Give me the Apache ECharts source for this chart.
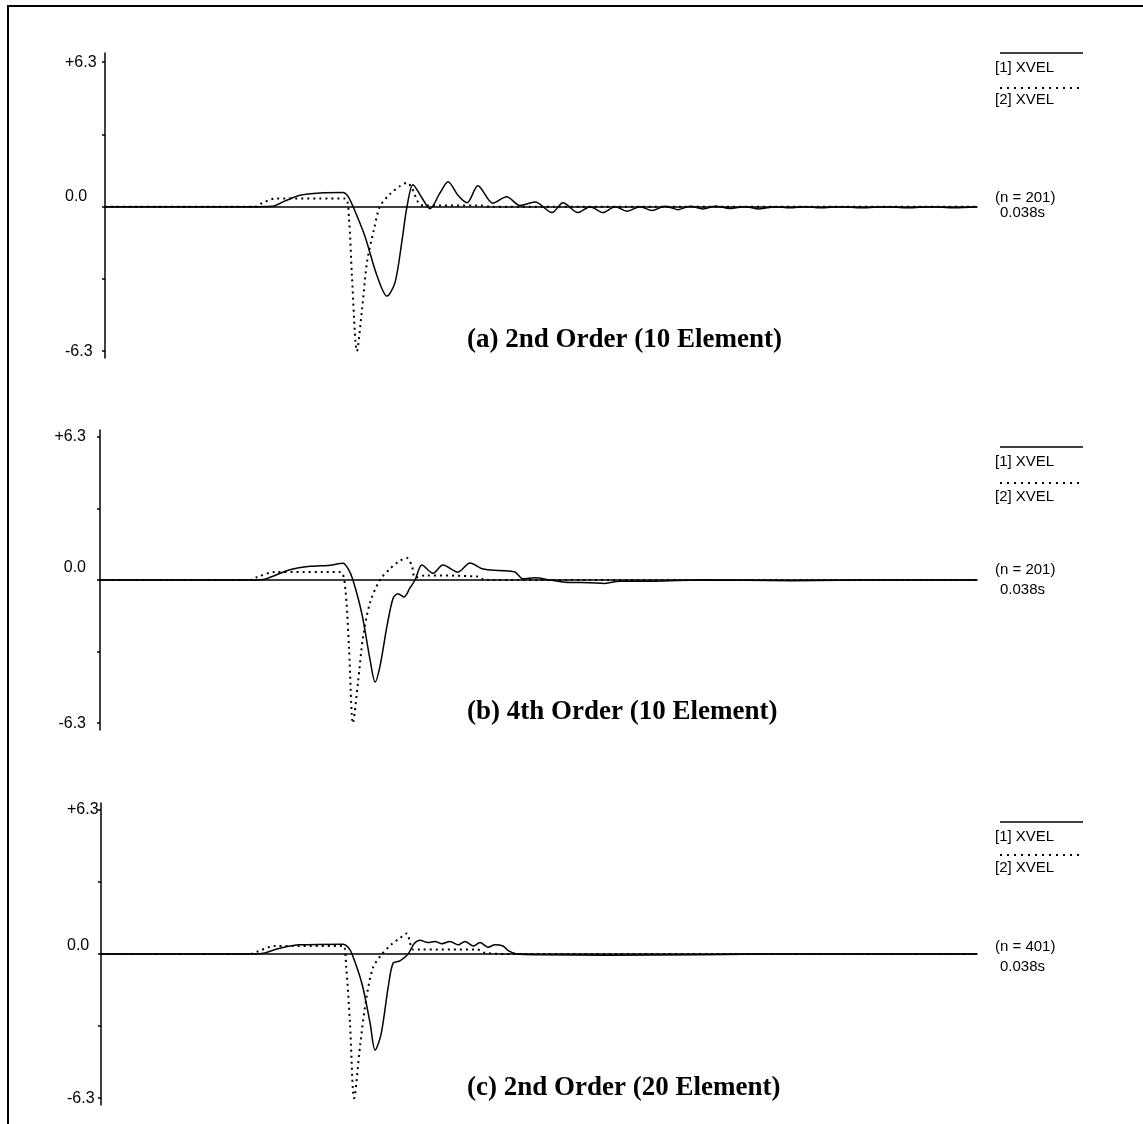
<!DOCTYPE html>
<html>
<head>
<meta charset="utf-8">
<script src="https://cdn.jsdelivr.net/npm/echarts@6/dist/echarts.min.js"></script>
<style>
html,body{margin:0;padding:0;background:#fff;}
#chart{width:1143px;height:1124px;}
</style>
</head>
<body>
<div id="chart"></div>
<script>
// ---- data (time in ms, value) ----
const T_MAX = 38;
const seriesNames = ['[1] XVEL', '[2] XVEL'];
const panelTitles = ['(a) 2nd Order (10 Element)', '(b) 4th Order (10 Element)', '(c) 2nd Order (20 Element)'];
const sampleCounts = ['(n = 201)', '(n = 201)', '(n = 401)'];
const durationLabel = '0.038s';
const yLabelValues = [6.3, 0, -6.3];
const yLabelTexts = ['+6.3', '0.0', '-6.3'];
const yTickValues = [6.3, 3.15, 0, -3.15, -6.3];

const a1 = [[0,0],[6.3,0],[7.3,0.02],[7.85,0.25],[8.5,0.5],[9.37,0.6],[10.37,0.62],[10.59,0.45],[10.81,0],[11.33,-1.3],[11.85,-3.0],[12.29,-3.9],[12.64,-3.3],[12.94,-1.5],[13.16,0],[13.42,0.96],[13.8,0.4],[14.16,-0.09],[14.6,0.6],[14.95,1.09],[15.38,0.5],[15.78,0.17],[16.25,0.91],[16.9,0.15],[17.5,0.43],[18.09,0.05],[18.74,0.2],[19.48,-0.26],[19.96,0.17],[20.61,-0.26],[21.14,0],[21.7,-0.26],[22.23,0],[22.75,-0.2],[23.32,0],[23.84,-0.17],[24.4,0.02],[24.97,-0.13],[25.5,0.02],[26.06,-0.1],[26.6,0.02],[27.24,-0.08],[27.9,0],[28.5,-0.1],[29.2,0],[29.85,-0.05],[30.5,0],[31.2,-0.05],[32,0],[33,-0.05],[34,0],[35,-0.05],[36,0],[37,-0.05],[38,0]];
const a2 = [[0,0],[6.54,0],[6.84,0.15],[7.41,0.35],[10.46,0.35],[10.63,-0.5],[10.76,-3.0],[10.98,-6.3],[11.2,-4.5],[11.42,-2.4],[11.72,-1.0],[11.98,0],[12.42,0.55],[12.86,0.9],[13.16,1.04],[13.38,0.8],[13.64,0.2],[13.86,0.05],[16.34,0.05],[16.78,0],[38,0]];
const b1 = [[0,0],[6.5,0],[7.06,0.02],[7.58,0.2],[8.23,0.45],[9.1,0.6],[9.97,0.65],[10.53,0.74],[10.75,0.5],[10.96,0],[11.35,-1.5],[11.7,-3.5],[11.92,-4.49],[12.13,-3.8],[12.44,-2.0],[12.7,-0.8],[12.91,-0.6],[13.17,-0.75],[13.43,-0.35],[13.65,0],[13.95,0.66],[14.43,0.3],[14.86,0.66],[15.51,0.35],[16.03,0.75],[16.6,0.48],[17.33,0.42],[17.98,0.35],[18.33,0.05],[18.85,0.1],[19.5,0],[20.15,-0.1],[21.23,-0.12],[21.88,-0.15],[22.5,-0.05],[24,-0.05],[26,0],[30,-0.03],[34,0],[38,0]];
const b2 = [[0,0],[6.5,0],[6.85,0.15],[7.58,0.35],[10.4,0.35],[10.62,-0.3],[10.79,-3.0],[10.96,-6.3],[11.18,-4.5],[11.4,-2.5],[11.7,-1.0],[12.13,0],[12.57,0.5],[13.0,0.85],[13.3,0.97],[13.52,0.6],[13.65,0.1],[14.08,0.2],[16.34,0.15],[16.68,0],[38,0]];
const c1 = [[0,0],[6.68,0],[7.11,0.05],[7.76,0.25],[8.63,0.4],[10.5,0.43],[10.72,0.3],[10.89,0],[11.32,-1.3],[11.67,-3.0],[11.89,-4.2],[12.15,-3.5],[12.45,-1.5],[12.67,-0.4],[12.97,-0.3],[13.32,0],[13.58,0.45],[13.84,0.6],[14.18,0.5],[14.49,0.55],[14.79,0.45],[15.14,0.55],[15.49,0.4],[15.79,0.55],[16.14,0.35],[16.44,0.5],[16.79,0.3],[17.09,0.4],[17.44,0.35],[17.66,0.15],[18.05,0],[19,-0.03],[22,-0.05],[26,-0.03],[30,0],[38,0]];
const c2 = [[0,0],[6.46,0],[6.77,0.1],[7.55,0.35],[10.5,0.35],[10.63,-0.5],[10.8,-3.0],[10.98,-6.3],[11.24,-4.0],[11.5,-2.0],[11.8,-0.6],[12.19,0],[12.63,0.45],[12.97,0.7],[13.27,0.9],[13.4,0.5],[13.53,0.2],[13.84,0.2],[16.31,0.2],[16.66,0.05],[17.87,0],[38,0]];

const panelData = [[a1, a2], [b1, b2], [c1, c2]];

// ---- layout ----
const panels = [
  {left:105, top:53, width:872, height:305, min:-6.6, max:6.7, labAlign:'left', labMargin:40, zeroShift:20, titleTop:327,
   leg:{line1:53, text1:68, line2:88, text2:100, n:198, s:213}},
  {left:100, top:430, width:877, height:300, min:-6.6, max:6.6, labAlign:'right', labMargin:14, zeroShift:24, titleTop:699,
   leg:{line1:447, text1:462, line2:483, text2:497, n:570, s:590}},
  {left:101, top:803, width:876, height:302, min:-6.6, max:6.6, labAlign:'left', labMargin:34, zeroShift:16, titleTop:1075,
   leg:{line1:822, text1:837, line2:855, text2:868, n:947, s:967}}
];

const FONT_SANS = '"Liberation Sans", Arial, sans-serif';
const grids = [], xAxes = [], yAxes = [], series = [], titles = [], graphics = [];

panels.forEach((p, i) => {
  grids.push({left:p.left, top:p.top, width:p.width, height:p.height, containLabel:false});
  xAxes.push({
    type:'value', gridIndex:i, min:0, max:T_MAX,
    axisLine:{show:true, onZero:true, lineStyle:{color:'#000', width:1.5}},
    axisTick:{show:false}, axisLabel:{show:false}, splitLine:{show:false}
  });
  yAxes.push({
    type:'value', gridIndex:i, min:p.min, max:p.max,
    axisLine:{show:true, lineStyle:{color:'#000', width:1.5}},
    axisTick:{show:true, length:3, customValues:yTickValues, lineStyle:{color:'#000', width:1.5}},
    axisLabel:{
      show:true, customValues:yLabelValues, align:p.labAlign, margin:p.labMargin,
      color:'#000', fontFamily:FONT_SANS, fontSize:16,
      formatter:(v) => {
        const k = yLabelValues.findIndex(x => Math.abs(x - v) < 1e-6);
        const t = k >= 0 ? yLabelTexts[k] : '';
        return Math.abs(v) < 1e-6 ? '{z|' + t + '}' : t;
      },
      rich:{z:{fontFamily:FONT_SANS, fontSize:16, color:'#000', padding:[0,0,p.zeroShift,0]}}
    },
    splitLine:{show:false}
  });
  panelData[i].forEach((d, j) => {
    series.push({
      name:seriesNames[j], type:'line', xAxisIndex:i, yAxisIndex:i, data:d,
      showSymbol:false, smooth:0.3, clip:false, animation:false,
      lineStyle: j === 0 ? {color:'#000', width:1.5, type:'solid'} : {color:'#000', width:2, type:[2,4]},
      z: j === 0 ? 3 : 2
    });
  });
  titles.push({
    text:panelTitles[i], left:467, top:p.titleTop, padding:0,
    textStyle:{fontFamily:'"Liberation Serif", "Times New Roman", serif', fontWeight:'bold', fontSize:27, color:'#000'}
  });
  const L = p.leg;
  graphics.push(
    {type:'line', shape:{x1:1000, y1:L.line1, x2:1083, y2:L.line1}, style:{stroke:'#000', lineWidth:1.5}},
    {type:'text', x:995, y:L.text1, style:{text:seriesNames[0], font:'15px ' + FONT_SANS, fill:'#000', verticalAlign:'middle'}},
    {type:'line', shape:{x1:1000, y1:L.line2, x2:1083, y2:L.line2}, style:{stroke:'#000', lineWidth:2, lineDash:[2,5]}},
    {type:'text', x:995, y:L.text2, style:{text:seriesNames[1], font:'15px ' + FONT_SANS, fill:'#000', verticalAlign:'middle'}},
    {type:'text', x:995, y:L.n, style:{text:sampleCounts[i], font:'15px ' + FONT_SANS, fill:'#000', verticalAlign:'middle'}},
    {type:'text', x:1000, y:L.s, style:{text:durationLabel, font:'15px ' + FONT_SANS, fill:'#000', verticalAlign:'middle'}}
  );
});

// frame
graphics.push(
  {type:'line', shape:{x1:7, y1:6, x2:1143, y2:6}, style:{stroke:'#000', lineWidth:2}},
  {type:'line', shape:{x1:8, y1:6, x2:8, y2:1124}, style:{stroke:'#000', lineWidth:2}}
);

const chart = echarts.init(document.getElementById('chart'), null, {renderer:'canvas'});
chart.setOption({
  backgroundColor:'#fff',
  animation:false,
  title:titles,
  grid:grids,
  xAxis:xAxes,
  yAxis:yAxes,
  series:series,
  graphic:graphics
});
</script>
</body>
</html>
